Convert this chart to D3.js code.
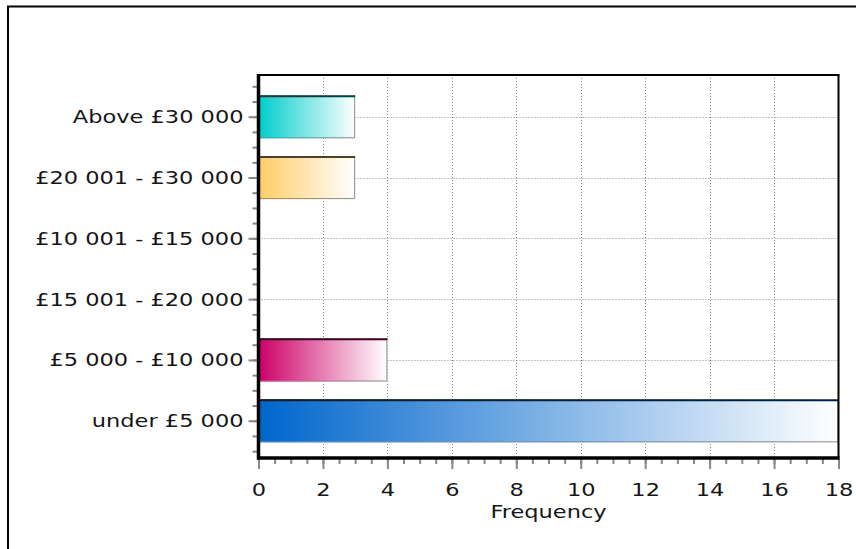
<!DOCTYPE html>
<html>
<head>
<meta charset="utf-8">
<script src="https://cdn.jsdelivr.net/npm/d3@7"></script>
<style>
  html, body { margin: 0; padding: 0; background: #fff; }
  svg { display: block; }
  text { font-family: "DejaVu Sans", Verdana, sans-serif; fill: #161616; }
</style>
</head>
<body>
<svg id="chart" width="856" height="549"></svg>
<script>
// Income bands, listed from top to bottom of the chart
const categories = [
  "Above £30 000",
  "£20 001 - £30 000",
  "£10 001 - £15 000",
  "£15 001 - £20 000",
  "£5 000 - £10 000",
  "under £5 000"
];
const frequencies = [3, 3, 0, 0, 4, 18];
const barColors = ["#00CCCC", "#FFCC66", "#CCCCCC", "#CCCCCC", "#CC0066", "#0066CC"];
const xTickValues = [0, 2, 4, 6, 8, 10, 12, 14, 16, 18];
const xTitle = "Frequency";

const svg = d3.select("#chart");
const W = 856, H = 549;
const plot = { left: 258.5, right: 838.5, top: 75, bottom: 458 };
const fontSize = 18, stretch = 1.25;

// outer frame (runs off the right and bottom edges)
svg.append("rect")
  .attr("x", 8).attr("y", 6.5)
  .attr("width", W + 20).attr("height", H + 20)
  .attr("fill", "none").attr("stroke", "#000").attr("stroke-width", 2);

const x = d3.scaleLinear().domain([0, 18]).range([plot.left, plot.right]);
// category slots: 1 = bottom row, 6 = top row
const n = categories.length;
const y = d3.scaleLinear().domain([0.387, 6.686]).range([plot.bottom, plot.top]);
const slot = i => n - i;

// gradients: full colour at the left, fading to white on the right
const defs = svg.append("defs");
barColors.forEach((c, i) => {
  const g = defs.append("linearGradient").attr("id", "grad" + i)
    .attr("x1", "0%").attr("x2", "100%").attr("y1", "0%").attr("y2", "0%");
  g.append("stop").attr("offset", "0%").attr("stop-color", c);
  g.append("stop").attr("offset", "100%").attr("stop-color", "#fff");
});

// dotted grid
const grid = svg.append("g").attr("stroke", "#888").attr("stroke-width", 1)
  .attr("stroke-dasharray", "1,2");
xTickValues.filter(v => v > 0 && v < 18).forEach(v => {
  grid.append("line")
    .attr("x1", Math.round(x(v)) + 0.5).attr("x2", Math.round(x(v)) + 0.5)
    .attr("y1", plot.top).attr("y2", plot.bottom);
});
categories.forEach((c, i) => {
  const yy = Math.round(y(slot(i))) + 0.5;
  grid.append("line")
    .attr("x1", plot.left).attr("x2", plot.right)
    .attr("y1", yy).attr("y2", yy);
});

// bars
const half = 0.355;
const bars = svg.append("g");
categories.forEach((c, i) => {
  const v = frequencies[i];
  if (v <= 0) return;
  const x0 = x(0), x1 = x(v);
  const y0 = y(slot(i) + half), y1 = y(slot(i) - half);
  bars.append("rect")
    .attr("x", x0).attr("y", y0)
    .attr("width", x1 - x0).attr("height", y1 - y0)
    .attr("fill", `url(#grad${i})`);
  // bevel: grey right and bottom edges, dark top edge
  bars.append("path")
    .attr("d", `M${x1 - 0.5},${y0} L${x1 - 0.5},${y1 - 0.5} L${x0},${y1 - 0.5}`)
    .attr("fill", "none").attr("stroke", "#8a8a8a").attr("stroke-width", 1);
  bars.append("line")
    .attr("x1", x0).attr("x2", x1)
    .attr("y1", y0 + 1).attr("y2", y0 + 1)
    .attr("stroke", d3.color(barColors[i]).darker(3.2)).attr("stroke-width", 2);
});

// x axis: minor and major ticks
const xMinor = d3.axisBottom(x).tickValues(d3.range(0, 18.01, 0.5)).tickSize(6).tickFormat("");
const xMajor = d3.axisBottom(x).tickValues(xTickValues).tickSize(11).tickFormat(d3.format("d"));
[xMinor, xMajor].forEach(ax => {
  const g = svg.append("g").attr("transform", `translate(0,${plot.bottom})`).call(ax);
  g.select(".domain").remove();
  g.selectAll(".tick line").attr("stroke", "#888").attr("stroke-width", 2);
  g.selectAll(".tick text")
    .attr("y", null).attr("dy", null)
    .attr("transform", `translate(0,38) scale(${stretch},1)`)
    .style("font-size", fontSize + "px")
    .style("font-family", "DejaVu Sans, Verdana, sans-serif")
    .attr("fill", "#161616");
});

// y axis: quarter-step minor ticks, category ticks with labels
const yMinorVals = d3.range(0.5, 6.6, 0.25);
const yMinor = d3.axisLeft(y).tickValues(yMinorVals).tickSize(6).tickFormat("");
const yMajor = d3.axisLeft(y).tickValues(categories.map((c, i) => slot(i))).tickSize(10)
  .tickFormat(v => categories[n - v]);
[yMinor, yMajor].forEach(ax => {
  const g = svg.append("g").attr("transform", `translate(${plot.left},0)`).call(ax);
  g.select(".domain").remove();
  g.selectAll(".tick line").attr("stroke", "#888").attr("stroke-width", 2);
  g.selectAll(".tick text")
    .attr("x", null).attr("dy", null)
    .attr("transform", `translate(-15,6) scale(${stretch},1)`)
    .attr("text-anchor", "end")
    .style("font-size", fontSize + "px")
    .style("font-family", "DejaVu Sans, Verdana, sans-serif")
    .attr("fill", "#161616");
});

// plot frame: thin top/right, heavy axis lines left/bottom
svg.append("line").attr("x1", plot.left).attr("x2", plot.right + 1)
  .attr("y1", plot.top).attr("y2", plot.top).attr("stroke", "#000").attr("stroke-width", 2);
svg.append("line").attr("x1", plot.right).attr("x2", plot.right)
  .attr("y1", plot.top).attr("y2", plot.bottom).attr("stroke", "#000").attr("stroke-width", 2);
svg.append("line").attr("x1", plot.left).attr("x2", plot.left)
  .attr("y1", plot.top - 1).attr("y2", plot.bottom + 1.5).attr("stroke", "#000").attr("stroke-width", 3.5);
svg.append("line").attr("x1", plot.left - 1.5).attr("x2", plot.right + 1)
  .attr("y1", plot.bottom).attr("y2", plot.bottom).attr("stroke", "#000").attr("stroke-width", 3.5);

// axis title
svg.append("text")
  .attr("transform", `translate(${(plot.left + plot.right) / 2},518) scale(${stretch},1)`)
  .attr("text-anchor", "middle")
  .style("font-size", fontSize + "px")
  .text(xTitle);
</script>
</body>
</html>
